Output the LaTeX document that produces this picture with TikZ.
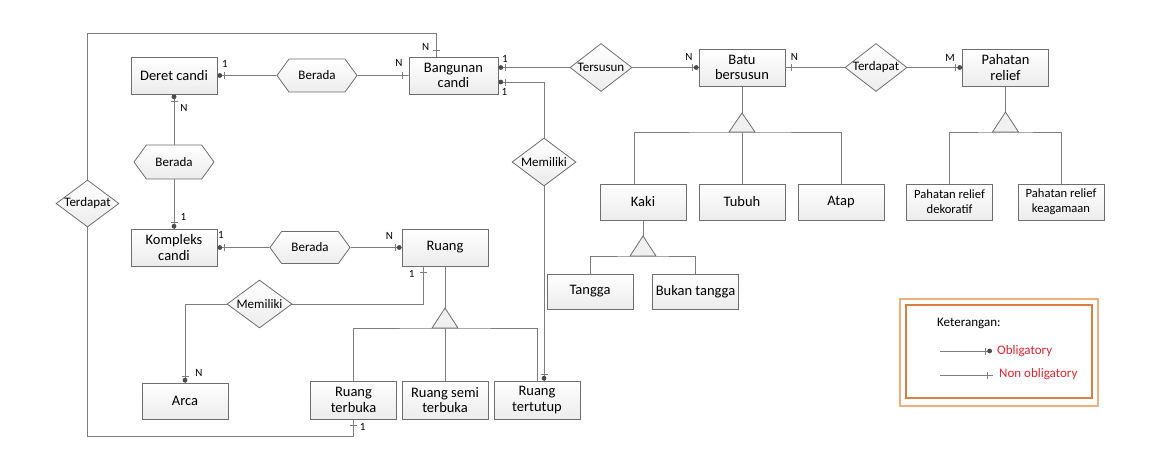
\documentclass[tikz,border=0pt]{standalone}
\usepackage{fontspec}
\setmainfont{Carlito}
\usetikzlibrary{shapes.geometric,shapes.symbols,decorations.markings}
\definecolor{lin}{RGB}{125,125,125}
\definecolor{bord}{RGB}{110,110,110}
\definecolor{dotc}{RGB}{75,75,75}
\definecolor{redt}{RGB}{225,35,45}
\definecolor{orA}{RGB}{238,175,125}
\definecolor{orB}{RGB}{220,125,65}
\tikzset{
  ent/.style={rectangle, draw=bord, line width=0.8pt, top color=white, bottom color=gray!15,
    minimum width=86pt, minimum height=37pt, inner sep=0pt, align=center,
    font=\fontsize{14.5}{15.5}\selectfont},
  entsm/.style={ent, font=\fontsize{12.6}{15}\selectfont},
  rel/.style={diamond, draw=bord, line width=0.8pt, top color=white, bottom color=gray!15,
    minimum width=63pt, minimum height=48pt, inner sep=0pt, font=\fontsize{13}{14}\selectfont},
  hexa/.style={signal, signal to=east and west, signal pointer angle=108, draw=bord,
    line width=0.8pt, top color=white, bottom color=gray!15,
    minimum width=80pt, minimum height=33pt, inner sep=0pt, font=\fontsize{13}{14}\selectfont},
  conn/.style={draw=lin, line width=0.8pt},
  isa/.style={draw=bord, line width=0.8pt, fill=gray!12},
  card/.style={font=\fontsize{11}{12}\selectfont, inner sep=0pt},
  oblS/.style={postaction={decorate, decoration={markings,
    mark=at position 2.4pt with {\fill[dotc] (0,0) circle (2.4pt);},
    mark=at position 6.5pt with {\draw[lin,line width=0.8pt] (0,-3.5pt) -- (0,3.5pt);}}}},
  oblE/.style={postaction={decorate, decoration={markings,
    mark=at position -2.4pt with {\fill[dotc] (0,0) circle (2.4pt);},
    mark=at position -6.5pt with {\draw[lin,line width=0.8pt] (0,-3.5pt) -- (0,3.5pt);}}}},
  nonS/.style={postaction={decorate, decoration={markings,
    mark=at position 6pt with {\draw[lin,line width=0.8pt] (0,-3.5pt) -- (0,3.5pt);}}}},
  nonE/.style={postaction={decorate, decoration={markings,
    mark=at position -6pt with {\draw[lin,line width=0.8pt] (0,-3.5pt) -- (0,3.5pt);}}}},
}
\begin{document}
\begin{tikzpicture}[x=1pt,y=-1pt]
\useasboundingbox (0,0) rectangle (1153,451);
% entities
\node[ent] (deret) at (174,75.5) {Deret candi};
\node[ent, minimum width=89pt] (bangunan) at (453.5,75.5) {Bangunan\\candi};
\node[ent] (kompleks) at (174,247.5) {Kompleks\\candi};
\node[ent] (ruang) at (445,247.5) {Ruang};
\node[ent, minimum height=36pt] (arca) at (185,401) {Arca};
\node[ent, minimum height=38pt] (rterbuka) at (353.5,400) {Ruang\\terbuka};
\node[ent, minimum height=38pt] (rsemi) at (445,400) {Ruang semi\\terbuka};
\node[ent, minimum height=38pt] (rtertutup) at (537,400) {Ruang\\tertutup};
\node[ent] (batu) at (742,67.5) {Batu\\bersusun};
\node[ent] (pahatan) at (1005.5,67.5) {Pahatan\\relief};
\node[ent, minimum height=36pt] (kaki) at (643,202) {Kaki};
\node[ent, minimum height=36pt] (tubuh) at (742,202) {Tubuh};
\node[ent, minimum height=36pt] (atap) at (841,202) {Atap};
\node[ent, minimum height=35pt] (tangga) at (590,291.5) {Tangga};
\node[ent, minimum height=35pt] (bukan) at (695.5,291.5) {Bukan tangga};
\node[entsm, minimum height=36pt] (dekoratif) at (949.5,202) {Pahatan relief\\dekoratif};
\node[entsm, minimum height=36pt] (keagamaan) at (1061,202) {Pahatan relief\\keagamaan};
% relationships
\node[hexa] (berada1) at (317,75.5) {\makebox[0pt]{Berada}};
\node[hexa, minimum height=34pt] (berada2) at (174,162) {\makebox[0pt]{Berada}};
\node[hexa, minimum height=32pt] (berada3) at (310,247.5) {\makebox[0pt]{Berada}};
\node[rel, minimum height=47pt] (terdapatL) at (87.5,203.5) {\makebox[0pt]{Terdapat}};
\node[rel, minimum width=65pt] (memilikiA) at (259.5,304) {\makebox[0pt]{Memiliki}};
\node[rel, minimum width=64pt] (memilikiB) at (544,162) {\makebox[0pt]{Memiliki}};
\node[rel, minimum width=62pt] (tersusun) at (601,67.5) {\makebox[0pt]{Tersusun}};
\node[rel, minimum width=62pt] (terdapatR) at (876,67.5) {\makebox[0pt]{Terdapat}};
% helper coordinates
\coordinate (topR) at (436,33);
\coordinate (botR) at (353.5,436);
\coordinate (rA) at (423,0);
\coordinate (bmy) at (0,82);
\coordinate (kx) at (634,0);
\coordinate (isaB) at (742,132);   \coordinate (apexB) at (742,113);
\coordinate (isaK) at (643,256);   \coordinate (apexK) at (643,236);
\coordinate (isaR) at (445,328);   \coordinate (apexR) at (445,308);
\coordinate (isaP) at (1005.5,132);\coordinate (apexP) at (1005.5,112);
% connectors
\draw[conn,oblS] (deret) -- (berada1);
\draw[conn,nonE] (berada1) -- (bangunan);
\draw[conn,nonE] (terdapatL.north) |- (topR) -- (topR |- bangunan.north);
\draw[conn,nonE] (terdapatL.south) |- (botR) -- (rterbuka.south);
\draw[conn,oblS] (deret) -- (berada2);
\draw[conn,oblE] (berada2) -- (kompleks);
\draw[conn,oblS] (kompleks) -- (berada3);
\draw[conn,oblE] (berada3) -- (ruang);
\draw[conn,nonS] (ruang.south -| rA) |- (memilikiA.east);
\draw[conn,oblE] (memilikiA.west) -| (arca.north);
\draw[conn,oblS] (bangunan.east |- tersusun.west) -- (tersusun.west);
\draw[conn,oblE] (tersusun.east) -- (batu.west);
\draw[conn,oblS] (bangunan.east |- bmy) -| (memilikiB.north);
\draw[conn,oblE] (memilikiB.south) -- (memilikiB.south |- rtertutup.north);
\draw[conn,nonS] (batu.east) -- (terdapatR.west);
\draw[conn,oblE] (terdapatR.east) -- (pahatan.west);
% ISA hierarchies
\draw[conn] (batu.south) -- (apexB);
\draw[conn] (kaki.north -| kx) |- (isaB) -| (atap.north);
\draw[conn] (isaB) -- (tubuh.north);
\draw[isa] (isaB) ++(-13,0) -- ++(13,-19) -- ++(13,19) -- cycle;
\draw[conn] (kaki.south) -- (apexK);
\draw[conn] (tangga.north) |- (isaK) -| (bukan.north);
\draw[isa] (isaK) ++(-13,0) -- ++(13,-20) -- ++(13,20) -- cycle;
\draw[conn] (ruang.south) -- (apexR);
\draw[conn] (rterbuka.north) |- (isaR) -| (rtertutup.north);
\draw[conn] (isaR) -- (rsemi.north);
\draw[isa] (isaR) ++(-13,0) -- ++(13,-20) -- ++(13,20) -- cycle;
\draw[conn] (pahatan.south) -- (apexP);
\draw[conn] (dekoratif.north) |- (isaP) -| (keagamaan.north);
\draw[isa] (isaP) ++(-13,0) -- ++(13,-20) -- ++(13,20) -- cycle;
% cardinalities
\node[card] (c1) at (225,64.3) {1};
\node[card] (c2) at (399,63) {N};
\node[card] (c3) at (425.7,46.7) {N};
\node[card] (c4) at (184,108) {N};
\node[card] (c5) at (183.3,216.7) {1};
\node[card] (c6) at (221,235) {1};
\node[card] (c7) at (389.3,236) {N};
\node[card] (c8) at (411.7,274.3) {1};
\node[card] (c9) at (199,373.3) {N};
\node[card] (c10) at (362.7,427.3) {1};
\node[card] (c11) at (505,59.3) {1};
\node[card] (c12) at (504.3,92.3) {1};
\node[card] (c13) at (689,56.7) {N};
\node[card] (c14) at (794.3,56.7) {N};
\node[card] (c15) at (950,58.3) {M};
% legend
\draw[orA, line width=1.1pt] (900,299) rectangle (1098,406);
\draw[orB, line width=1.1pt] (906,305) rectangle (1092,398);
\node[anchor=west, inner sep=0pt, font=\fontsize{13}{14}\selectfont] (ket) at (937,323) {Keterangan:};
\coordinate (l1a) at (940,351); \coordinate (l1b) at (992,351);
\coordinate (l2a) at (940,375); \coordinate (l2b) at (993,375);
\draw[conn,oblE] (l1a) -- (l1b);
\draw[conn,nonE] (l2a) -- (l2b);
\node[anchor=west, inner sep=0pt, text=redt, font=\fontsize{13}{14}\selectfont] (obl) at (997,351) {Obligatory};
\node[anchor=west, inner sep=0pt, text=redt, font=\fontsize{13}{14}\selectfont] (nonobl) at (999,374) {Non obligatory};
\end{tikzpicture}
\end{document}
